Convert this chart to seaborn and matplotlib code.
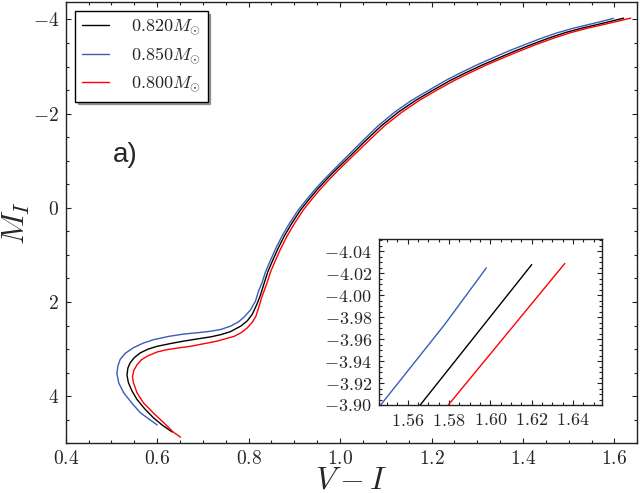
import matplotlib
matplotlib.use("Agg")
import matplotlib.pyplot as plt
import numpy as np
import seaborn as sns
from matplotlib.ticker import AutoMinorLocator, MultipleLocator

# isochrone tracks (V-I, M_I), bottom to top
vi_082 = [0.633, 0.612, 0.592, 0.572, 0.556, 0.545, 0.537, 0.534, 0.536, 0.541,
          0.550, 0.563, 0.580, 0.600, 0.630, 0.658, 0.690, 0.717, 0.740, 0.760,
          0.783, 0.797, 0.808, 0.818, 0.826, 0.834, 0.842, 0.852, 0.864, 0.878,
          0.895, 0.914, 0.932, 0.951, 0.970, 0.988, 1.024, 1.053, 1.090, 1.127,
          1.165, 1.200, 1.240, 1.273, 1.310, 1.346, 1.380, 1.419, 1.455, 1.492,
          1.530, 1.566, 1.620]
mi_082 = [4.76, 4.62, 4.46, 4.26, 4.07, 3.89, 3.71, 3.55, 3.40, 3.29,
          3.18, 3.08, 3.00, 2.94, 2.88, 2.83, 2.78, 2.74, 2.69, 2.63,
          2.51, 2.40, 2.26, 2.05, 1.85, 1.60, 1.36, 1.13, 0.87, 0.60,
          0.32, 0.04, -0.18, -0.40, -0.60, -0.78, -1.12, -1.40, -1.74, -2.03,
          -2.28, -2.48, -2.70, -2.86, -3.03, -3.18, -3.32, -3.47, -3.60, -3.72,
          -3.82, -3.90, -4.028]

vi_085 = [0.600, 0.580, 0.563, 0.545, 0.527, 0.516, 0.512, 0.514, 0.519, 0.530,
          0.548, 0.570, 0.592, 0.625, 0.658, 0.690, 0.717, 0.740, 0.761, 0.778,
          0.790, 0.804, 0.815, 0.822, 0.829, 0.837, 0.847, 0.859, 0.873, 0.890,
          0.909, 0.927, 0.946, 0.965, 0.983, 1.018, 1.047, 1.083, 1.119, 1.156,
          1.191, 1.230, 1.262, 1.298, 1.333, 1.366, 1.405, 1.440, 1.476, 1.512,
          1.546, 1.5777, 1.5953, 1.598]
mi_085 = [4.61, 4.47, 4.35, 4.15, 3.93, 3.72, 3.52, 3.36, 3.22, 3.09,
          2.97, 2.87, 2.80, 2.73, 2.68, 2.65, 2.62, 2.58, 2.51, 2.42,
          2.32, 2.17, 1.98, 1.76, 1.60, 1.36, 1.13, 0.87, 0.60, 0.32,
          0.04, -0.18, -0.40, -0.60, -0.78, -1.12, -1.40, -1.74, -2.03, -2.28,
          -2.48, -2.70, -2.86, -3.03, -3.18, -3.32, -3.47, -3.60, -3.72, -3.82,
          -3.898, -3.973, -4.018, -4.025]

vi_080 = [0.651, 0.635, 0.614, 0.592, 0.570, 0.556, 0.548, 0.546, 0.549, 0.556,
          0.565, 0.578, 0.600, 0.622, 0.650, 0.673, 0.705, 0.731, 0.753, 0.768,
          0.784, 0.797, 0.808, 0.816, 0.822, 0.828, 0.840, 0.848, 0.858, 0.870,
          0.884, 0.901, 0.920, 0.938, 0.957, 0.976, 0.994, 1.030, 1.060, 1.097,
          1.135, 1.173, 1.208, 1.249, 1.282, 1.319, 1.355, 1.390, 1.429, 1.466,
          1.504, 1.543, 1.5796, 1.636]
mi_080 = [4.87, 4.76, 4.56, 4.36, 4.14, 3.93, 3.71, 3.58, 3.45, 3.33,
          3.23, 3.15, 3.06, 3.01, 2.97, 2.94, 2.88, 2.83, 2.77, 2.73,
          2.65, 2.55, 2.43, 2.30, 2.12, 1.92, 1.60, 1.36, 1.13, 0.87,
          0.60, 0.32, 0.04, -0.18, -0.40, -0.60, -0.78, -1.12, -1.40, -1.74,
          -2.03, -2.28, -2.48, -2.70, -2.86, -3.03, -3.18, -3.32, -3.47, -3.60,
          -3.72, -3.82, -3.90, -4.029]

labels = [r"$0.820M_{\odot}$", r"$0.850M_{\odot}$", r"$0.800M_{\odot}$"]
colors = ["black", "#3a5cb8", "red"]
tracks = [(vi_082, mi_082), (vi_085, mi_085), (vi_080, mi_080)]

sns.set_style("ticks")
plt.rcParams["font.family"] = "serif"
plt.rcParams["font.serif"] = ["cmr10", "DejaVu Serif"]
plt.rcParams["mathtext.fontset"] = "cm"
plt.rcParams["axes.formatter.use_mathtext"] = True
plt.rcParams["axes.unicode_minus"] = True


def style_axes(ax, size):
    for sp in ax.spines.values():
        sp.set_color("#222222")
        sp.set_linewidth(1.0)
    ax.tick_params(which="both", direction="in", top=True, right=True,
                   labelsize=size, color="#222222", pad=5)
    ax.tick_params(which="major", length=3.5, width=0.8)
    ax.tick_params(which="minor", length=2.5, width=0.8)


fig = plt.figure(figsize=(6.4, 4.93), dpi=100)
ax = fig.add_axes([0.1027, 0.1008, 0.893, 0.895])

for (vi, mi), lab, c in zip(tracks, labels, colors):
    sns.lineplot(x=vi, y=mi, sort=False, estimator=None, color=c,
                 linewidth=1.0, label=lab, ax=ax)

ax.set_xlim(0.4, 1.65)
ax.set_ylim(5.0, -4.37)
ax.xaxis.set_major_locator(MultipleLocator(0.2))
ax.xaxis.set_minor_locator(MultipleLocator(0.05))
ax.yaxis.set_major_locator(MultipleLocator(2))
ax.yaxis.set_minor_locator(MultipleLocator(0.5))
style_axes(ax, 14)
ax.set_xlabel(r"$V-I$", fontsize=23, labelpad=-1)
ax.set_ylabel(r"$M_I$", fontsize=23)
ax.yaxis.set_label_coords(-0.059, 0.5)

leg = ax.legend(loc="upper left", fontsize=13, frameon=True, fancybox=False,
                shadow=True, framealpha=1, edgecolor="black",
                handlelength=1.5, handletextpad=1.2, labelspacing=0.5,
                borderaxespad=0.5)
leg.get_frame().set_linewidth(1.0)

ax.text(0.53, -1.13, "a)", fontsize=20, family="Liberation Sans",
        ha="center", va="center")

# zoomed inset on the tip of the RGB
axin = fig.add_axes([0.592, 0.1785, 0.3486, 0.336])
for (vi, mi), c in zip(tracks, colors):
    sns.lineplot(x=vi, y=mi, sort=False, estimator=None, color=c,
                 linewidth=1.0, ax=axin, legend=False)
axin.set_xlim(1.546, 1.654)
axin.set_ylim(-3.90, -4.051)
axin.set_xticks([1.56, 1.58, 1.60, 1.62, 1.64])
axin.set_yticks([-3.90, -3.92, -3.94, -3.96, -3.98, -4.00, -4.02, -4.04])
axin.xaxis.set_minor_locator(AutoMinorLocator())
axin.yaxis.set_minor_locator(AutoMinorLocator())
axin.set_xlabel("")
axin.set_ylabel("")
style_axes(axin, 13)

fig.savefig("out.png", dpi=100)
